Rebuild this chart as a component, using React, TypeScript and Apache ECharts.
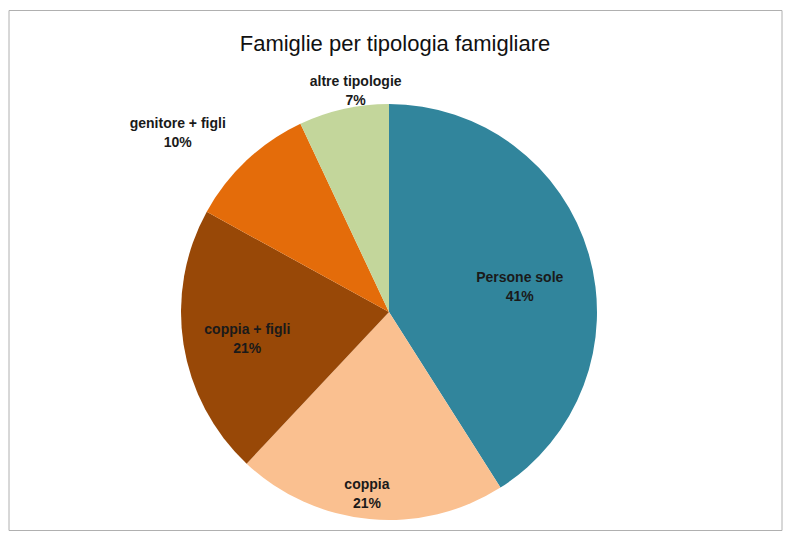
import React, { useEffect, useRef } from "react";
import * as echarts from "echarts";

const categories = ["Persone sole", "coppia", "coppia + figli", "genitore + figli", "altre tipologie"];
const shares = [41, 21, 21, 10, 7];
const sliceColors = ["#31859C", "#FAC090", "#984807", "#E46C0A", "#C3D69B"];
const titleText = "Famiglie per tipologia famigliare";

// label offsets from the default inside position (styling)
const labelDx = [28, -12, -36, -138, -10];
const labelDy = [4, 75, 10, -102, -117];

export default function App() {
  const ref = useRef<HTMLDivElement>(null);
  useEffect(() => {
    if (!ref.current) return;
    const chart = echarts.init(ref.current, null, { renderer: "svg" });
    chart.setOption({
      animation: false,
      backgroundColor: "#ffffff",
      title: {
        text: titleText,
        left: "center",
        top: 27,
        textStyle: {
          fontFamily: "Liberation Sans",
          fontSize: 22,
          fontWeight: "normal",
          color: "#111111",
        },
      },
      graphic: [
        {
          type: "rect",
          shape: { x: 9, y: 10.5, width: 773, height: 520 },
          style: { fill: "none", stroke: "#b0b0b0", lineWidth: 1 },
          silent: true,
        },
      ],
      series: [
        {
          type: "pie",
          center: [389, 312],
          radius: [0, 208],
          startAngle: 90,
          clockwise: true,
          avoidLabelOverlap: false,
          itemStyle: { borderWidth: 0 },
          label: {
            show: true,
            position: "inside",
            formatter: "{b}\n{c}%",
            fontFamily: "Liberation Sans",
            fontSize: 14,
            fontWeight: "bold",
            lineHeight: 19,
            color: "#1a1a1a",
            align: "center",
          },
          labelLine: { show: false },
          labelLayout: (params: any) => ({
            dx: labelDx[params.dataIndex],
            dy: labelDy[params.dataIndex],
          }),
          emphasis: { disabled: true },
          data: categories.map((name, i) => ({
            name,
            value: shares[i],
            itemStyle: { color: sliceColors[i] },
          })),
        },
      ],
    });
    return () => chart.dispose();
  }, []);
  return (
    <div
      ref={ref}
      style={{ position: "fixed", left: 0, top: 0, width: 790, height: 534 }}
    />
  );
}
